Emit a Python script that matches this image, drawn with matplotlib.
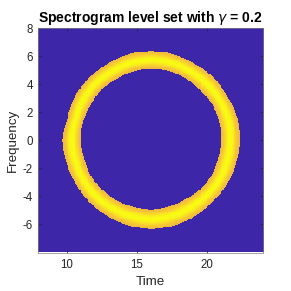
import numpy as np
import matplotlib
matplotlib.use("Agg")
import matplotlib.pyplot as plt
from matplotlib.colors import LinearSegmentedColormap

# ---- data ----
title_text = "Spectrogram level set with $\\gamma$ = 0.2"
gamma = 0.2
x_range = [7.9, 24.05]
y_range = [-8.0, 8.0]
x_ticks = [10, 15, 20]
y_ticks = [-6, -4, -2, 0, 2, 4, 6, 8]
ring_center = [16.0, 0.0]
# boundary of the level set, sampled every 15 degrees (counter-clockwise from +Time axis)
ring_angles = [0, 15, 30, 45, 60, 75, 90, 105, 120, 135, 150, 165,
               180, 195, 210, 225, 240, 255, 270, 285, 300, 315, 330, 345]
outer_radius = [6.33, 6.36, 6.25, 6.30, 6.22, 6.28, 6.31, 6.30, 6.25, 6.26, 6.30, 6.20,
                6.36, 6.32, 6.28, 6.30, 6.30, 6.35, 6.38, 6.35, 6.30, 6.24, 6.30, 6.32]
inner_radius = [4.98, 5.02, 5.05, 4.95, 5.00, 5.05, 5.05, 5.02, 4.98, 5.05, 5.00, 5.05,
                5.05, 5.00, 5.05, 5.02, 5.00, 4.98, 5.00, 4.95, 4.90, 5.00, 5.02, 4.97]
peak_value = 1.0
edge_value = 0.85

# parula-like colormap
parula_pts = [(0.000, (0.2422, 0.1504, 0.6603)), (0.125, (0.2810, 0.3228, 0.9579)),
              (0.250, (0.1786, 0.5289, 0.9682)), (0.375, (0.0800, 0.6500, 0.8400)),
              (0.500, (0.1500, 0.7200, 0.6800)), (0.625, (0.4420, 0.7481, 0.5030)),
              (0.750, (0.7300, 0.7300, 0.3300)), (0.850, (0.9400, 0.7200, 0.2500)),
              (0.930, (0.9800, 0.8300, 0.1800)), (1.000, (0.9769, 0.9839, 0.0805))]
parula = LinearSegmentedColormap.from_list("parula", parula_pts, N=256)

# ---- build the level-set field ----
nx, ny = 260, 256
xs = np.linspace(x_range[0], x_range[1], nx)
ys = np.linspace(y_range[0], y_range[1], ny)
X, Y = np.meshgrid(xs, ys)
dx = X - ring_center[0]
dy = Y - ring_center[1]
R = np.hypot(dx, dy)
TH = np.degrees(np.arctan2(dy, dx)) % 360
rin = np.interp(TH, ring_angles, inner_radius, period=360)
rout = np.interp(TH, ring_angles, outer_radius, period=360)
t = (R - rin) / (rout - rin)
inside = (t >= 0) & (t <= 1)
Z = np.zeros_like(R)
Z[inside] = edge_value + (peak_value - edge_value) * np.sin(np.pi * t[inside]) ** 1.5

plt.rcParams['axes.unicode_minus'] = False
plt.rcParams['font.family'] = ['Liberation Sans', 'DejaVu Sans']

fig = plt.figure(figsize=(2.91, 2.91), dpi=100)
ax = fig.add_axes([37.7 / 291, 1 - 252.5 / 291, (263.3 - 37.7) / 291, (252.5 - 28.3) / 291])
ax.imshow(Z, extent=[x_range[0], x_range[1], y_range[0], y_range[1]], origin='lower',
          cmap=parula, vmin=0, vmax=1, aspect='auto', interpolation='nearest')
ax.set_xlim(x_range)
ax.set_ylim(y_range)
ax.set_xticks(x_ticks)
ax.set_yticks(y_ticks)
grey = (0.15, 0.15, 0.15)
ax.tick_params(direction='in', length=2.5, width=0.5, colors=grey, labelsize=8.3,
               top=True, right=True)
ax.tick_params(axis='x', pad=5)
ax.tick_params(axis='y', pad=3.5)
ax.tick_params(axis='both', labelcolor=grey)
for s in ax.spines.values():
    s.set_linewidth(0.5)
    s.set_color((0.5, 0.5, 0.5))
ax.set_xlabel("Time", fontsize=9.6, color=grey, labelpad=3)
ax.set_ylabel("Frequency", fontsize=9.6, color=grey, labelpad=3)
ax.set_title(title_text, fontsize=10, fontweight='bold', pad=4.5)

fig.savefig("out.png", dpi=100)
